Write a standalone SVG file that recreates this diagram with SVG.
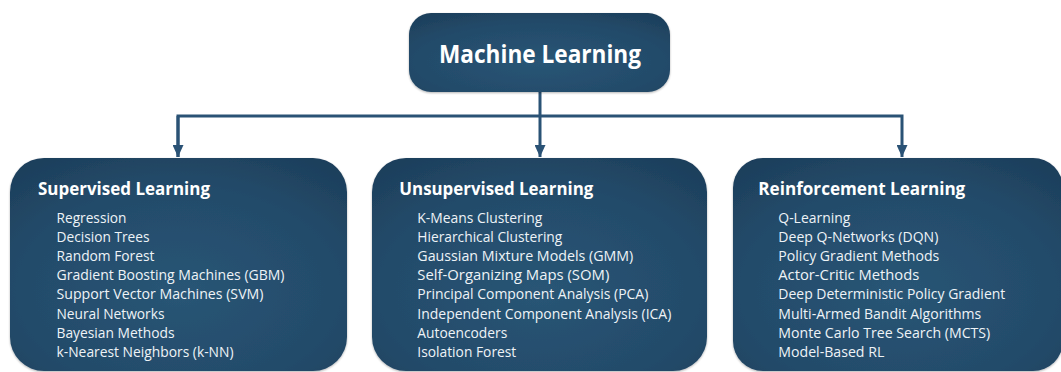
<svg xmlns="http://www.w3.org/2000/svg" width="1061" height="372" viewBox="0 0 1061 372">
  <defs>
    <radialGradient id="boxGrad" cx="0.5" cy="0.62" r="0.8">
      <stop offset="0" stop-color="#295575"/>
      <stop offset="0.6" stop-color="#234b6a"/>
      <stop offset="1" stop-color="#1c3c58"/>
    </radialGradient>
    <filter id="shadow" x="-5%" y="-5%" width="110%" height="110%">
      <feGaussianBlur in="SourceAlpha" stdDeviation="1.2"/>
      <feOffset dx="0" dy="0.5" result="b"/>
      <feComponentTransfer><feFuncA type="linear" slope="0.3"/></feComponentTransfer>
      <feMerge><feMergeNode/><feMergeNode in="SourceGraphic"/></feMerge>
    </filter>
    <marker id="arrow" markerWidth="12" markerHeight="11" refX="12" refY="5.5" orient="auto" markerUnits="userSpaceOnUse">
      <path d="M0,0 L12,5.5 L0,11 Z" fill="#2a5275"/>
    </marker>
  </defs>
  <style>
    .box { fill: url(#boxGrad); filter: url(#shadow); }
    .title { font-family: "Open Sans", "Liberation Sans", sans-serif; font-weight: 700; font-size: 24.5px; fill: #ffffff; }
    .head { font-family: "Open Sans", "Liberation Sans", sans-serif; font-weight: 700; font-size: 17.5px; fill: #ffffff; }
    .item { font-family: "Open Sans", "Liberation Sans", sans-serif; font-weight: 400; font-size: 14.5px; fill: #eef3f7; }
    .conn { fill: none; stroke: #2a5275; stroke-width: 3; stroke-linejoin: miter; }
  </style>

  <g id="connectors">
    <line class="conn" x1="540" y1="92" x2="540" y2="157" marker-end="url(#arrow)"/>
    <polyline class="conn" points="178,157 178,116 902,116 902,157" marker-end="url(#arrow)"/>
    <line class="conn" x1="178" y1="116" x2="178" y2="157" marker-end="url(#arrow)"/>
  </g>

  <g id="node-ml">
    <rect class="box" x="409" y="13" width="261" height="79" rx="22" ry="22"/>
    <text class="title" x="439" y="63" textLength="202" lengthAdjust="spacingAndGlyphs">Machine Learning</text>
  </g>

  <g id="node-supervised">
    <rect class="box" x="10" y="158" width="337" height="213" rx="34" ry="34"/>
    <text class="head" x="38" y="195" textLength="172" lengthAdjust="spacingAndGlyphs">Supervised Learning</text>
    <text class="item" x="56.5" y="223" textLength="70" lengthAdjust="spacingAndGlyphs">Regression</text>
    <text class="item" x="56.5" y="242.1" textLength="93" lengthAdjust="spacingAndGlyphs">Decision Trees</text>
    <text class="item" x="56.5" y="261.2" textLength="98" lengthAdjust="spacingAndGlyphs">Random Forest</text>
    <text class="item" x="56.5" y="280.3" textLength="228" lengthAdjust="spacingAndGlyphs">Gradient Boosting Machines (GBM)</text>
    <text class="item" x="56.5" y="299.4" textLength="207" lengthAdjust="spacingAndGlyphs">Support Vector Machines (SVM)</text>
    <text class="item" x="56.5" y="318.5" textLength="108" lengthAdjust="spacingAndGlyphs">Neural Networks</text>
    <text class="item" x="56.5" y="337.6" textLength="118" lengthAdjust="spacingAndGlyphs">Bayesian Methods</text>
    <text class="item" x="56.5" y="356.7" textLength="177" lengthAdjust="spacingAndGlyphs">k-Nearest Neighbors (k-NN)</text>
  </g>

  <g id="node-unsupervised">
    <rect class="box" x="372" y="158" width="335" height="213" rx="34" ry="34"/>
    <text class="head" x="399.3" y="195" textLength="194" lengthAdjust="spacingAndGlyphs">Unsupervised Learning</text>
    <text class="item" x="417.3" y="223" textLength="125" lengthAdjust="spacingAndGlyphs">K-Means Clustering</text>
    <text class="item" x="417.3" y="242.1" textLength="145" lengthAdjust="spacingAndGlyphs">Hierarchical Clustering</text>
    <text class="item" x="417.3" y="261.2" textLength="216" lengthAdjust="spacingAndGlyphs">Gaussian Mixture Models (GMM)</text>
    <text class="item" x="417.3" y="280.3" textLength="192" lengthAdjust="spacingAndGlyphs">Self-Organizing Maps (SOM)</text>
    <text class="item" x="417.3" y="299.4" textLength="231" lengthAdjust="spacingAndGlyphs">Principal Component Analysis (PCA)</text>
    <text class="item" x="417.3" y="318.5" textLength="254" lengthAdjust="spacingAndGlyphs">Independent Component Analysis (ICA)</text>
    <text class="item" x="417.3" y="337.6" textLength="90" lengthAdjust="spacingAndGlyphs">Autoencoders</text>
    <text class="item" x="417.3" y="356.7" textLength="99" lengthAdjust="spacingAndGlyphs">Isolation Forest</text>
  </g>

  <g id="node-reinforcement">
    <rect class="box" x="733" y="158" width="330" height="213" rx="30" ry="30"/>
    <text class="head" x="758.3" y="195" textLength="207" lengthAdjust="spacingAndGlyphs">Reinforcement Learning</text>
    <text class="item" x="778.3" y="223" textLength="72" lengthAdjust="spacingAndGlyphs">Q-Learning</text>
    <text class="item" x="778.3" y="242.1" textLength="160" lengthAdjust="spacingAndGlyphs">Deep Q-Networks (DQN)</text>
    <text class="item" x="778.3" y="261.2" textLength="161" lengthAdjust="spacingAndGlyphs">Policy Gradient Methods</text>
    <text class="item" x="778.3" y="280.3" textLength="141" lengthAdjust="spacingAndGlyphs">Actor-Critic Methods</text>
    <text class="item" x="778.3" y="299.4" textLength="227" lengthAdjust="spacingAndGlyphs">Deep Deterministic Policy Gradient</text>
    <text class="item" x="778.3" y="318.5" textLength="203" lengthAdjust="spacingAndGlyphs">Multi-Armed Bandit Algorithms</text>
    <text class="item" x="778.3" y="337.6" textLength="212" lengthAdjust="spacingAndGlyphs">Monte Carlo Tree Search (MCTS)</text>
    <text class="item" x="778.3" y="356.7" textLength="106" lengthAdjust="spacingAndGlyphs">Model-Based RL</text>
  </g>
</svg>
